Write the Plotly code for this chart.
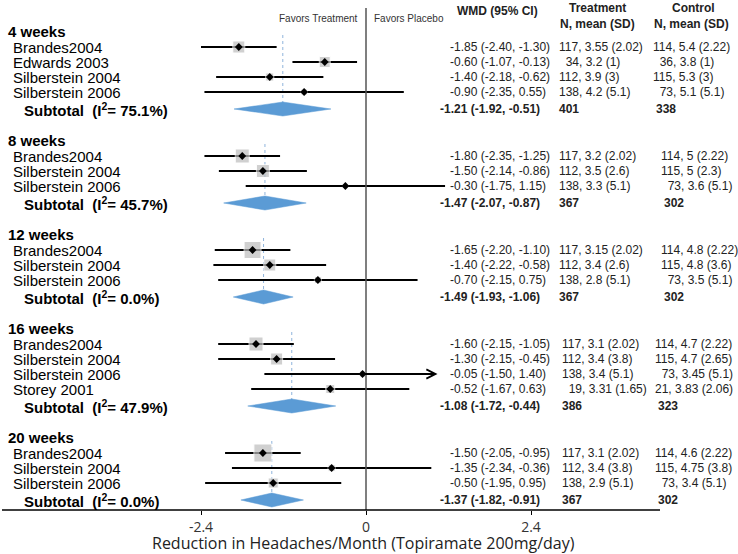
import plotly.graph_objects as go

# ---- data ----
groups = ["4 weeks", "8 weeks", "12 weeks", "16 weeks", "20 weeks"]
i2 = ["75.1", "45.7", "0.0", "47.9", "0.0"]

studies = [
    ["Brandes2004", "Edwards 2003", "Silberstein 2004", "Silberstein 2006"],
    ["Brandes2004", "Silberstein 2004", "Silberstein 2006"],
    ["Brandes2004", "Silberstein 2004", "Silberstein 2006"],
    ["Brandes2004", "Silberstein 2004", "Silberstein 2006", "Storey 2001"],
    ["Brandes2004", "Silberstein 2004", "Silberstein 2006"],
]

# plotted effect and CI (as drawn in the picture)
est = [[-1.85, -0.60, -1.40, -0.90],
       [-1.80, -1.50, -0.30],
       [-1.65, -1.40, -0.70],
       [-1.60, -1.30, -0.05, -0.52],
       [-1.50, -0.50, -1.35]]
lo = [[-2.40, -1.07, -2.18, -2.35],
      [-2.35, -2.14, -1.75],
      [-2.20, -2.22, -2.15],
      [-2.15, -2.15, -1.50, -1.67],
      [-2.05, -1.95, -2.34]]
hi = [[-1.30, -0.13, -0.62, 0.55],
      [-1.25, -0.86, 1.15],
      [-1.10, -0.58, 0.75],
      [-1.05, -0.45, 1.40, 0.63],
      [-0.95, 0.95, -0.36]]
weights = [[36, 30, 16, 9],
           [49, 42, 6],
           [72, 36, 12],
           [49, 36, 9, 20],
           [81, 12, 25]]

pooled = [-1.21, -1.47, -1.49, -1.08, -1.37]
pooled_lo = [-1.92, -2.07, -1.93, -1.72, -1.82]
pooled_hi = [-0.51, -0.87, -1.06, -0.44, -0.91]

wmd_text = [
    ["-1.85 (-2.40, -1.30)", "-0.60 (-1.07, -0.13)", "-1.40 (-2.18, -0.62)", "-0.90 (-2.35, 0.55)"],
    ["-1.80 (-2.35, -1.25)", "-1.50 (-2.14, -0.86)", "-0.30 (-1.75, 1.15)"],
    ["-1.65 (-2.20, -1.10)", "-1.40 (-2.22, -0.58)", "-0.70 (-2.15, 0.75)"],
    ["-1.60 (-2.15, -1.05)", "-1.30 (-2.15, -0.45)", "-0.05 (-1.50, 1.40)", "-0.52 (-1.67, 0.63)"],
    ["-1.50 (-2.05, -0.95)", "-1.35 (-2.34, -0.36)", "-0.50 (-1.95, 0.95)"],
]
trt_text = [
    ["117, 3.55 (2.02)", "  34, 3.2 (1)", "112, 3.9 (3)", "138, 4.2 (5.1)"],
    ["117, 3.2 (2.02)", "112, 3.5 (2.6)", "138, 3.3 (5.1)"],
    ["117, 3.15 (2.02)", "112, 3.4 (2.6)", "138, 2.8 (5.1)"],
    ["117, 3.1 (2.02)", "112, 3.4 (3.8)", "138, 3.4 (5.1)", "  19, 3.31 (1.65)"],
    ["117, 3.1 (2.02)", "112, 3.4 (3.8)", "138, 2.9 (5.1)"],
]
ctrl_text = [
    ["114, 5.4 (2.22)", "  36, 3.8 (1)", "115, 5.3 (3)", "  73, 5.1 (5.1)"],
    ["114, 5 (2.22)", "115, 5 (2.3)", "  73, 3.6 (5.1)"],
    ["114, 4.8 (2.22)", "115, 4.8 (3.6)", "  73, 3.5 (5.1)"],
    ["114, 4.7 (2.22)", "115, 4.7 (2.65)", "  73, 3.45 (5.1)", "21, 3.83 (2.06)"],
    ["114, 4.6 (2.22)", "115, 4.75 (3.8)", "  73, 3.4 (5.1)"],
]
pooled_text = ["-1.21 (-1.92, -0.51)", "-1.47 (-2.07, -0.87)", "-1.49 (-1.93, -1.06)",
               "-1.08 (-1.72, -0.44)", "-1.37 (-1.82, -0.91)"]
n_trt = [401, 367, 367, 386, 367]
n_ctrl = [338, 302, 302, 323, 302]

# ---- layout helpers (pixel based) ----
W, H = 738, 554
PLOT_BOTTOM = 510
X0_PX = 366          # pixel of x = 0
PX_PER_UNIT = 68.75
xr = [-X0_PX / PX_PER_UNIT, (W - X0_PX) / PX_PER_UNIT]
CLIP = 1.04          # CI drawn beyond this gets an arrow
ARROW_AT = 1.2

def px(x):
    return x / W

TXT = "Liberation Sans"
BLUE = "#5b9bd5"
DOT = "#8fb4dc"

fig = go.Figure()
ann = []
shapes = []

y = 31
trt_x = [557, 557, 557, 560, 560]
ctrl_x = [651, 659, 659, 653, 653]

for g in range(len(groups)):
    header_y = y
    ann.append(dict(x=px(6), y=header_y, xref="paper", yref="y", xanchor="left",
                    text="<b>%s</b>" % groups[g], showarrow=False,
                    font=dict(family=TXT, size=15, color="black")))
    rows = [header_y + 16 + 15 * i for i in range(len(studies[g]))]
    sub_y = rows[-1] + 17

    # dotted line at pooled estimate
    shapes.append(dict(type="line", xref="x", yref="y", x0=pooled[g], x1=pooled[g],
                       y0=rows[0] - 12, y1=sub_y, layer="below",
                       line=dict(color=DOT, width=1, dash="dot")))

    for i, ry in enumerate(rows):
        ann.append(dict(x=px(11), y=ry, xref="paper", yref="y", xanchor="left",
                        text=studies[g][i], showarrow=False,
                        font=dict(family=TXT, size=15, color="black")))
        ann.append(dict(x=px(448), y=ry, xref="paper", yref="y", xanchor="left",
                        text=wmd_text[g][i], showarrow=False,
                        font=dict(family=TXT, size=12, color="#222")))
        ann.append(dict(x=px(trt_x[g]), y=ry, xref="paper", yref="y", xanchor="left",
                        text=trt_text[g][i].replace(" ", "\u00a0"), showarrow=False,
                        font=dict(family=TXT, size=12, color="#222")))
        ann.append(dict(x=px(ctrl_x[g]), y=ry, xref="paper", yref="y", xanchor="left",
                        text=ctrl_text[g][i].replace(" ", "\u00a0"), showarrow=False,
                        font=dict(family=TXT, size=12, color="#222")))

    # CI lines
    for i, ry in enumerate(rows):
        if hi[g][i] > ARROW_AT:
            ann.append(dict(x=CLIP, y=ry, ax=lo[g][i], ay=ry, xref="x", yref="y",
                            axref="x", ayref="y", text="", showarrow=True,
                            arrowhead=5, arrowsize=1, arrowwidth=1.8, arrowcolor="black"))
        else:
            fig.add_trace(go.Scatter(x=[lo[g][i], hi[g][i]], y=[ry, ry], mode="lines",
                                     line=dict(color="black", width=2),
                                     hoverinfo="skip", showlegend=False))

    # weight squares and centre dots
    fig.add_trace(go.Scatter(x=est[g], y=rows, mode="markers",
                             marker=dict(symbol="square", color="#bdbdbd",
                                         size=[2.0 * w ** 0.5 for w in weights[g]]),
                             showlegend=False, hoverinfo="skip"))
    fig.add_trace(go.Scatter(x=est[g], y=rows, mode="markers",
                             marker=dict(symbol="diamond", color="black", size=6),
                             showlegend=False, hoverinfo="skip"))

    # subtotal diamond
    h = 7
    fig.add_trace(go.Scatter(x=[pooled_lo[g], pooled[g], pooled_hi[g], pooled[g], pooled_lo[g]],
                             y=[sub_y, sub_y - h, sub_y, sub_y + h, sub_y],
                             mode="lines", fill="toself", fillcolor=BLUE,
                             line=dict(color=BLUE, width=0.5),
                             showlegend=False, hoverinfo="skip"))
    ann.append(dict(x=px(22), y=sub_y, xref="paper", yref="y", xanchor="left",
                    text="<b>Subtotal\u00a0\u00a0(I<sup>2</sup>= %s%%)</b>" % i2[g], showarrow=False,
                    font=dict(family=TXT, size=15, color="black")))
    ann.append(dict(x=px(438), y=sub_y, xref="paper", yref="y", xanchor="left",
                    text="<b>%s</b>" % pooled_text[g], showarrow=False,
                    font=dict(family=TXT, size=12, color="#222")))
    ann.append(dict(x=px(trt_x[g]), y=sub_y, xref="paper", yref="y", xanchor="left",
                    text="<b>%d</b>" % n_trt[g], showarrow=False,
                    font=dict(family=TXT, size=12, color="#222")))
    ann.append(dict(x=px(ctrl_x[g] + 3), y=sub_y, xref="paper", yref="y", xanchor="left",
                    text="<b>%d</b>" % n_ctrl[g], showarrow=False,
                    font=dict(family=TXT, size=12, color="#222")))

    y = sub_y + 31

# column headers
hdr = [("<b>WMD (95% CI)</b>", 497, 11), ("<b>Treatment</b>", 597, 8),
       ("<b>N, mean (SD)</b>", 597, 24), ("<b>Control</b>", 693, 8),
       ("<b>N, mean (SD)</b>", 691, 24)]
for t, xp, yp in hdr:
    ann.append(dict(x=px(xp), y=yp, xref="paper", yref="y", xanchor="center",
                    text=t, showarrow=False, font=dict(family=TXT, size=12, color="#222")))
ann.append(dict(x=px(360), y=18, xref="paper", yref="y", xanchor="right",
                text="Favors Treatment", showarrow=False,
                font=dict(family=TXT, size=10, color="#333")))
ann.append(dict(x=px(372), y=18, xref="paper", yref="y", xanchor="left",
                text="Favors Placebo", showarrow=False,
                font=dict(family=TXT, size=10, color="#333")))

# x axis title
ann.append(dict(x=px(363), y=(PLOT_BOTTOM - 543) / PLOT_BOTTOM, xref="paper", yref="paper",
                xanchor="center", yanchor="middle", showarrow=False,
                text="Reduction in Headaches/Month (Topiramate 200mg/day)",
                font=dict(family="Open Sans", size=16, color="#222")))

# zero line and axis line
shapes.append(dict(type="line", xref="x", yref="y", x0=0, x1=0, y0=8, y1=PLOT_BOTTOM,
                   line=dict(color="#555", width=1.5)))
shapes.append(dict(type="line", xref="paper", yref="paper", x0=px(2), x1=px(660), y0=0, y1=0,
                   line=dict(color="black", width=1.5)))

fig.update_layout(
    width=W, height=H,
    margin=dict(l=0, r=0, t=0, b=H - PLOT_BOTTOM),
    plot_bgcolor="white", paper_bgcolor="white",
    annotations=ann, shapes=shapes, showlegend=False,
    xaxis=dict(range=xr, tickvals=[-2.4, 0, 2.4], ticktext=["-2.4", "0", "2.4"],
               ticks="outside", ticklen=4, tickcolor="black", tickwidth=1.2,
               showgrid=False, zeroline=False, showline=False, automargin=False,
               tickfont=dict(family="Open Sans", size=14, color="#333")),
    yaxis=dict(range=[PLOT_BOTTOM, 0], visible=False, fixedrange=True),
)

# drop the page's default body margin so the figure sits at the window corner
fig.write_html("out.html", config={"displayModeBar": False},
               post_script="document.body.style.margin='0';")
